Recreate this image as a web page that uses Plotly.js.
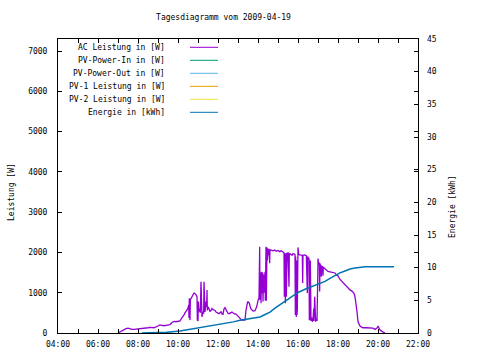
<!DOCTYPE html>
<html>
<head>
<meta charset="utf-8">
<script src="https://cdn.plot.ly/plotly-3.0.1.min.js"></script>
<style>html,body{margin:0;padding:0;background:#fff;}#chart{width:480px;height:360px;}</style>
</head>
<body>
<div id="chart"></div>
<script>
var day = '2009-04-19';
var titleText = 'Tagesdiagramm vom 2009-04-19';
var seriesNames = ['AC Leistung in [W]', 'PV-Power-In in [W]', 'PV-Power-Out in [W]', 'PV-1 Leistung in [W]', 'PV-2 Leistung in [W]', 'Energie in [kWh]'];
var seriesColors = ['#9400d3', '#009e73', '#56b4e9', '#e69f00', '#f0e442', '#0072b2'];

var acTime = ['07:00','07:06','07:12','07:18','07:24','07:30','07:36','07:42','07:48','07:54','08:00','08:06','08:12','08:18','08:24','08:30','08:36','08:42','08:48','08:54','09:00','09:06','09:12','09:18','09:24','09:30','09:36','09:42','09:48','09:54','10:00','10:06','10:12','10:15','10:18','10:21','10:24','10:27','10:30','10:32','10:33','10:34','10:36','10:37','10:39','10:42','10:45','10:48','10:51','10:54','10:57','10:58','11:00','11:01','11:03','11:05','11:07','11:09','11:10','11:12','11:15','11:17','11:18','11:19','11:21','11:24','11:26','11:27','11:28','11:30','11:33','11:36','11:39','11:42','11:45','11:48','11:51','11:54','11:57','12:00','12:03','12:06','12:09','12:12','12:15','12:18','12:21','12:24','12:27','12:30','12:33','12:36','12:42','12:48','12:54','13:00','13:06','13:11','13:16','13:21','13:24','13:29','13:34','13:38','13:42','13:46','13:51','13:56','14:00','14:03','14:05','14:06','14:08','14:09','14:11','14:12','14:14','14:15','14:17','14:19','14:21','14:22','14:24','14:25','14:27','14:28','14:30','14:31','14:33','14:35','14:36','14:40','14:45','14:50','14:55','15:00','15:05','15:10','15:15','15:18','15:19','15:21','15:22','15:24','15:25','15:27','15:30','15:33','15:34','15:39','15:42','15:45','15:48','15:51','15:52','15:53','15:54','15:55','15:56','15:57','15:58','16:00','16:02','16:06','16:10','16:13','16:14','16:15','16:20','16:25','16:28','16:29','16:31','16:33','16:34','16:36','16:37','16:39','16:41','16:43','16:45','16:47','16:48','16:50','16:51','16:53','16:55','16:57','16:59','17:00','17:02','17:04','17:05','17:06','17:08','17:10','17:11','17:13','17:15','17:16','17:20','17:25','17:30','17:36','17:45','17:51','17:55','18:00','18:06','18:15','18:21','18:30','18:36','18:42','18:48','18:51','18:54','18:57','19:00','19:03','19:06','19:12','19:15','19:24','19:36','19:45','19:51','19:57','20:00','20:03','20:06','20:12','20:18','20:21'];
var acPower = [0,30,40,80,110,120,100,90,90,95,90,100,110,110,120,130,140,130,130,150,180,200,190,180,190,200,210,260,290,280,290,300,380,410,450,500,540,580,610,700,370,860,320,820,860,880,950,990,980,950,900,320,300,780,530,600,500,1270,450,400,530,480,1270,700,520,780,650,1070,560,650,600,530,560,610,580,570,560,520,500,490,480,500,530,470,460,600,630,580,510,490,480,500,520,480,470,420,365,320,320,320,570,780,740,610,570,545,555,650,800,880,2140,820,1500,740,1520,980,1500,780,1450,1000,1520,800,2140,800,2120,1810,2100,1930,2080,1730,2070,2060,2040,2060,2030,2050,2020,2040,2010,1990,900,1980,740,1980,900,1980,1990,1150,1980,1960,1930,1970,1960,1950,450,1900,650,400,1800,450,600,2125,1950,1940,1930,1930,1240,1930,1940,1920,990,1900,1860,1850,320,350,1800,300,380,280,330,600,300,900,320,280,350,300,1250,1850,1700,1750,1030,1730,1650,1400,1660,1650,1420,1640,1600,1560,1530,1520,1500,1490,1440,1420,1330,1250,1190,1120,1070,1040,985,900,740,530,280,200,175,140,130,130,130,120,90,120,175,100,75,40,20,0];

var enTime = ['08:11','08:40','09:26','10:06','10:36','11:06','11:30','11:56','12:20','12:46','13:06','13:36','14:06','14:20','14:36','14:51','15:06','15:21','15:36','15:51','16:00','16:21','16:36','16:51','17:06','17:21','17:36','17:51','18:06','18:21','18:36','18:51','19:06','19:21','19:40','20:00','20:20','20:48'];
var enKWh = [0,0,0.1,0.3,0.55,0.8,1.0,1.2,1.45,1.7,1.95,2.2,2.45,2.8,3.2,3.8,4.3,4.9,5.4,5.9,6.2,6.7,7.0,7.25,7.5,7.9,8.35,8.8,9.2,9.5,9.8,9.95,10.05,10.15,10.15,10.15,10.15,10.15];

var yTicks = [0,1000,2000,3000,4000,5000,6000,7000];
var y2Ticks = [0,5,10,15,20,25,30,35,40,45];

function toDate(t){ return day + ' ' + t; }
var font = {family: 'DejaVu Sans Mono, monospace', size: 8, color: '#000'};

var traces = [
  {x: acTime.map(toDate), y: acPower, type: 'scatter', mode: 'lines', name: seriesNames[0], line: {color: seriesColors[0], width: 1.3}, yaxis: 'y'},
  {x: [], y: [], type: 'scatter', mode: 'lines', name: seriesNames[1], line: {color: seriesColors[1], width: 1}, yaxis: 'y'},
  {x: [], y: [], type: 'scatter', mode: 'lines', name: seriesNames[2], line: {color: seriesColors[2], width: 1}, yaxis: 'y'},
  {x: [], y: [], type: 'scatter', mode: 'lines', name: seriesNames[3], line: {color: seriesColors[3], width: 1}, yaxis: 'y'},
  {x: [], y: [], type: 'scatter', mode: 'lines', name: seriesNames[4], line: {color: seriesColors[4], width: 1}, yaxis: 'y'},
  {x: enTime.map(toDate), y: enKWh, type: 'scatter', mode: 'lines', name: seriesNames[5], line: {color: seriesColors[5], width: 1.5}, yaxis: 'y2'}
];

// legend (gnuplot style: text right-aligned, sample on the right)
var annotations = [];
var shapes = [];
var legTop = 47.3, legStep = 13;
seriesNames.forEach(function(n, i){
  var py = legTop + i*legStep;
  var yp = (333 - py)/294;
  annotations.push({xref: 'paper', yref: 'paper', x: (167-58)/360, y: yp, text: n, showarrow: false, xanchor: 'right', yanchor: 'middle', font: font});
  shapes.push({type: 'line', xref: 'paper', yref: 'paper', x0: (190-58)/360, x1: (218-58)/360, y0: yp, y1: yp, line: {color: seriesColors[i], width: 1}});
});
annotations.push({xref: 'paper', yref: 'paper', x: (11-58)/360, y: (333-192)/294, text: 'Leistung [W]', textangle: -90, showarrow: false, xanchor: 'center', yanchor: 'middle', font: font});
annotations.push({xref: 'paper', yref: 'paper', x: (452-58)/360, y: (333-207)/294, text: 'Energie [kWh]', textangle: -90, showarrow: false, xanchor: 'center', yanchor: 'middle', font: font});

var layout = {
  width: 480, height: 360,
  margin: {l: 58, r: 62, t: 39, b: 27, pad: 0},
  paper_bgcolor: '#fff', plot_bgcolor: '#fff',
  showlegend: false,
  font: font,
  title: {text: titleText, font: font, x: (223.5-58)/360, xref: 'paper', xanchor: 'center', y: 1-17/360, yref: 'container', yanchor: 'middle'},
  xaxis: {
    type: 'date',
    range: [toDate('04:00'), toDate('22:00')],
    dtick: 7200000, tick0: toDate('00:00'), tickformat: '%H:%M',
    ticks: 'inside', ticklen: 4, tickcolor: '#000', tickwidth: 1,
    minor: {dtick: 3600000, ticks: 'inside', ticklen: 4, tickcolor: '#000'},
    showline: true, linecolor: '#000', linewidth: 1, mirror: 'ticks',
    showgrid: false, zeroline: false, tickfont: font, ticklabelstandoff: 3
  },
  yaxis: {
    range: [0, 7300], tickvals: yTicks, ticktext: yTicks.map(String),
    ticks: 'inside', ticklen: 4, tickcolor: '#000',
    showline: true, linecolor: '#000', linewidth: 1, mirror: 'ticks',
    showgrid: false, zeroline: false, tickfont: font, ticklabelstandoff: 8
  },
  yaxis2: {
    range: [0, 45], tickvals: y2Ticks, ticktext: y2Ticks.map(String),
    overlaying: 'y', side: 'right',
    ticks: 'inside', ticklen: 4, tickcolor: '#000',
    showline: false, showgrid: false, zeroline: false, tickfont: font, ticklabelstandoff: 8
  },
  annotations: annotations,
  shapes: shapes
};

Plotly.newPlot('chart', traces, layout, {displayModeBar: false, staticPlot: true});
</script>
</body>
</html>
